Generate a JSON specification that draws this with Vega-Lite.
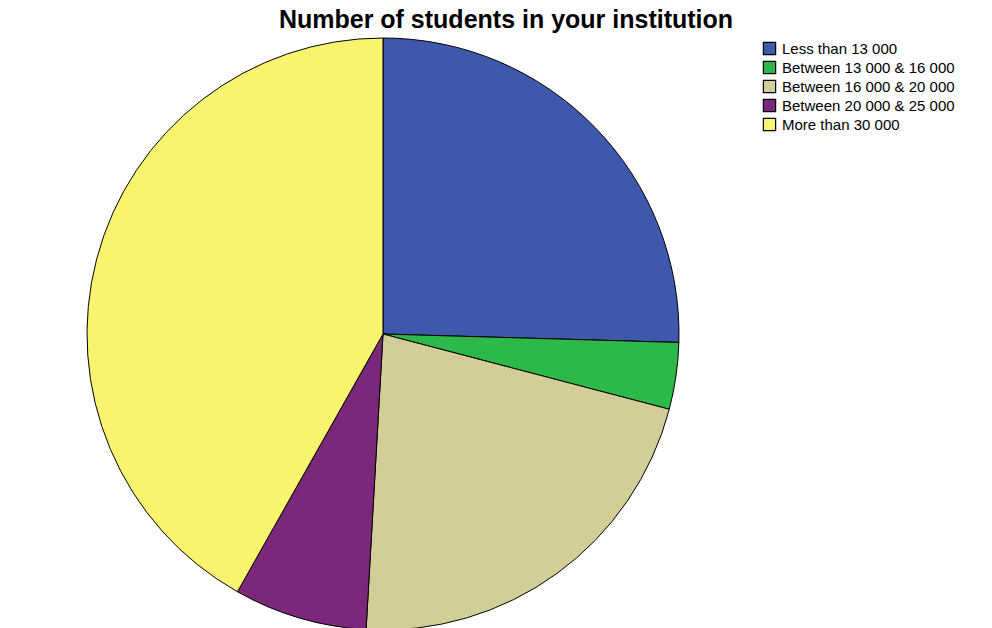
{
  "$schema": "https://vega.github.io/schema/vega-lite/v6.json",
  "autosize": "none",
  "width": 766,
  "height": 588,
  "padding": {"top": 40, "left": 0, "right": 226, "bottom": 0},
  "background": "white",
  "title": {
    "text": "Number of students in your institution",
    "font": "Liberation Sans",
    "fontSize": 25,
    "fontWeight": "bold",
    "color": "black",
    "anchor": "middle",
    "dx": 123,
    "offset": 3
  },
  "data": {
    "values": [
      {"category": "Less than 13 000", "count": 14, "rank": 1},
      {"category": "Between 13 000 & 16 000", "count": 2, "rank": 2},
      {"category": "Between 16 000 & 20 000", "count": 12, "rank": 3},
      {"category": "Between 20 000 & 25 000", "count": 4, "rank": 4},
      {"category": "More than 30 000", "count": 23, "rank": 5}
    ]
  },
  "mark": {"type": "arc", "radius": 296, "stroke": "black", "strokeWidth": 1},
  "encoding": {
    "theta": {"field": "count", "type": "quantitative", "stack": true},
    "order": {"field": "rank", "type": "quantitative"},
    "color": {
      "field": "category",
      "type": "nominal",
      "scale": {
        "domain": ["Less than 13 000", "Between 13 000 & 16 000", "Between 16 000 & 20 000", "Between 20 000 & 25 000", "More than 30 000"],
        "range": ["#3E58AC", "#2DB84A", "#D3CE97", "#7B287A", "#F9F46F"]
      },
      "legend": {
        "title": null,
        "orient": "none",
        "legendX": 762,
        "legendY": 1,
        "symbolType": "square",
        "symbolSize": 150,
        "symbolStrokeColor": "black",
        "symbolStrokeWidth": 1.2,
        "symbolOpacity": 1,
        "labelFont": "Liberation Sans",
        "labelFontSize": 15,
        "labelColor": "black",
        "labelOffset": 5,
        "rowPadding": 0,
        "labelLimit": 300
      }
    }
  }
}
